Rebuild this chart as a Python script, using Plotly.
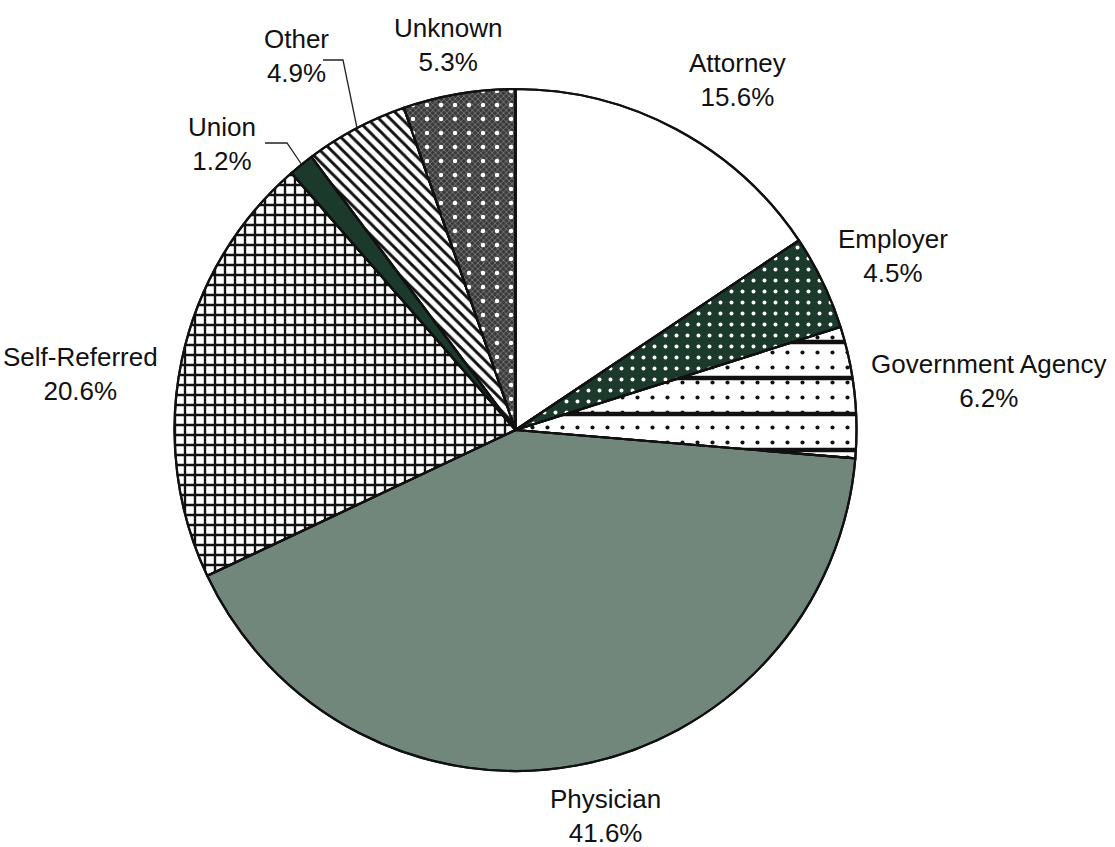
import plotly.graph_objects as go

# Referral sources, clockwise from 12 o'clock
labels = ["Attorney", "Employer", "Government Agency", "Physician",
          "Self-Referred", "Union", "Other", "Unknown"]
shares = [15.6, 4.5, 6.2, 41.6, 20.6, 1.2, 4.9, 5.3]

W, H = 1115, 847

# Base fills and primary hatching
fills = ["#ffffff", "#1b3a2c", "#ffffff", "#71877b",
         "#ffffff", "#1b3a2c", "#ffffff", "#3a3a3a"]
base_shape = ["", ".", "-", "", "+", "", "\\", "x"]
base_fg = ["#000", "#ffffff", "#111111", "#000", "#111111", "#000", "#111111", "#8c8c8c"]
base_size = [8, 11, 36, 8, 10, 8, 8, 4]
base_solid = [0.3, 0.1, 0.12, 0.3, 0.42, 0.3, 0.36, 0.3]

# Secondary dotted layer drawn on top of some slices
over_shape = ["", "", ".", "", "", "", "", "."]
over_fg = ["#000", "#000", "#111111", "#000", "#000", "#000", "#000", "#ffffff"]
over_size = [8, 8, 15, 8, 8, 8, 8, 14]
over_solid = [0.1, 0.1, 0.06, 0.1, 0.1, 0.1, 0.1, 0.08]

# Pie placement (pixels)
cx, cy, r = 515.5, 430, 341
dom_x = [(cx - r) / W, (cx + r) / W]
dom_y = [1 - (cy + r) / H, 1 - (cy - r) / H]

fig = go.Figure()
fig.add_trace(go.Pie(
    labels=labels, values=shares, sort=False, direction="clockwise", rotation=0,
    domain=dict(x=dom_x, y=dom_y), textinfo="none", hoverinfo="label+value",
    marker=dict(colors=fills, line=dict(color="#111111", width=2.2),
                pattern=dict(shape=base_shape, fgcolor=base_fg, bgcolor=fills,
                             size=base_size, solidity=base_solid)),
    showlegend=False,
))
fig.add_trace(go.Pie(
    labels=labels, values=shares, sort=False, direction="clockwise", rotation=0,
    domain=dict(x=dom_x, y=dom_y), textinfo="none", hoverinfo="skip",
    marker=dict(colors=["rgba(0,0,0,0)"] * len(labels),
                line=dict(color="#111111", width=2.2),
                pattern=dict(shape=over_shape, fgcolor=over_fg, size=over_size,
                             solidity=over_solid,
                             bgcolor=["rgba(0,0,0,0)"] * len(labels))),
    showlegend=False,
))

# Label anchor points in pixels (centre of the two-line label)
label_pos = {
    "Attorney": (737, 80),
    "Employer": (893, 256),
    "Government Agency": (989, 381),
    "Physician": (605, 816),
    "Self-Referred": (81, 374),
    "Union": (222, 144),
    "Other": (296, 56),
    "Unknown": (448, 45),
}

def px(x, y):
    return x / W, 1 - y / H

for lab, val in zip(labels, shares):
    x, y = px(*label_pos[lab])
    fig.add_annotation(
        x=x, y=y, xref="paper", yref="paper", xanchor="center", yanchor="middle",
        text=f"{lab}<br>{val:.1f}%", showarrow=False,
        font=dict(family="Liberation Sans, Arial, sans-serif", size=26, color="#111111"),
    )

# Leader lines for the two thin slices
leaders = [
    [(265, 143), (287, 143), (302, 165)],   # Union
    [(323, 60), (343, 60), (357, 128)],     # Other
]
for pts in leaders:
    path = "M " + " L ".join(f"{px(a, b)[0]:.5f},{px(a, b)[1]:.5f}" for a, b in pts)
    fig.add_shape(type="path", path=path, xref="paper", yref="paper",
                  line=dict(color="#222222", width=1.3))

fig.update_layout(
    width=W, height=H, margin=dict(l=0, r=0, t=0, b=0),
    paper_bgcolor="white", plot_bgcolor="white",
)

fig.write_html("out.html")
